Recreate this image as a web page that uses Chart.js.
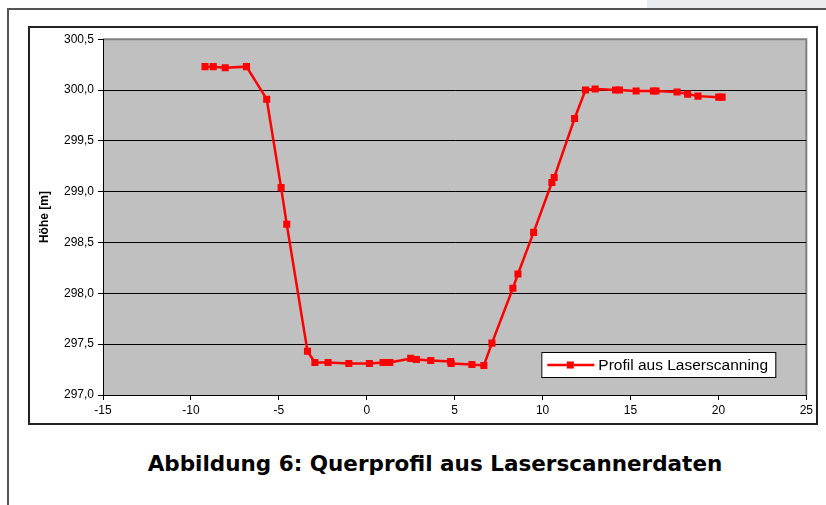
<!DOCTYPE html>
<html>
<head>
<meta charset="utf-8">
<script src="https://cdn.jsdelivr.net/npm/chart.js@4/dist/chart.umd.min.js"></script>
<style>
  body { margin: 0; background: #fff; width: 826px; height: 505px; position: relative; overflow: hidden; }
  #topbar { position: absolute; left: 647px; top: 0; width: 179px; height: 8px; background: #e9ebee; }
  #pageTop { position: absolute; left: 7px; top: 8px; width: 819px; height: 0; border-top: 2px solid #555; }
  #pageLeft { position: absolute; left: 7px; top: 8px; width: 0; height: 497px; border-left: 2px solid #555; }
  #box { position: absolute; left: 28px; top: 26px; width: 790px; height: 399px; box-sizing: border-box; border: 2px solid #222; background: #fff; }
  #myChart { position: absolute; left: 30px; top: 28px; }
  #caption { position: absolute; left: 0; width: 870px; top: 451px; text-align: center; font-family: 'DejaVu Sans', sans-serif; font-weight: bold; font-size: 21.5px; color: #000; }
</style>
</head>
<body>
<div id="topbar"></div>
<div id="pageTop"></div>
<div id="pageLeft"></div>
<div id="box"></div>
<canvas id="myChart" width="786" height="395"></canvas>
<div id="caption">Abbildung 6: Querprofil aus Laserscannerdaten</div>
<script>
const seriesLabel = 'Profil aus Laserscanning'
// Abstand [m]
const distances = [-9.2, -8.73, -8.05, -6.84, -5.69, -4.87, -4.55, -3.37, -2.95, -2.2,
	-1.02, 0.15, 0.93, 1.31, 2.5, 2.82, 3.64, 4.77, 4.8, 5.98,
	6.66, 7.12, 8.31, 8.6, 9.49, 10.53, 10.66, 11.82, 12.44, 12.99,
	14.15, 14.37, 15.32, 16.3, 16.45, 17.65, 18.25, 18.84, 20.02, 20.21]
// Höhe [m]
const heights = [300.23, 300.23, 300.22, 300.23, 299.91, 299.04, 298.68, 297.43, 297.32, 297.32,
	297.31, 297.31, 297.32, 297.32, 297.36, 297.35, 297.34, 297.33, 297.31, 297.30,
	297.29, 297.51, 298.05, 298.19, 298.6, 299.09, 299.14, 299.72, 300.0, 300.01,
	300.0, 300.0, 299.99, 299.99, 299.99, 299.98, 299.96, 299.94, 299.93, 299.93]
const xTicks = [-15, -10, -5, 0, 5, 10, 15, 20, 25]
const yTicks = [297.0, 297.5, 298.0, 298.5, 299.0, 299.5, 300.0, 300.5]

const FONT = '"Liberation Sans", Arial, sans-serif'
Chart.defaults.font.family = FONT

const ctx = document.getElementById('myChart');

const plotBg = {
	id: 'plotBg',
	beforeDraw(chart) {
		const a = chart.chartArea
		const c = chart.ctx
		c.save()
		c.fillStyle = '#c0c0c0'
		c.fillRect(a.left, a.top, a.right - a.left, a.bottom - a.top)
		c.strokeStyle = '#808080'
		c.lineWidth = 2
		c.beginPath()
		c.moveTo(a.left, a.top)
		c.lineTo(a.right, a.top)
		c.lineTo(a.right, a.bottom)
		c.stroke()
		c.restore()
	}
}

const boxLegend = {
	id: 'boxLegend',
	afterDatasetsDraw(chart) {
		const a = chart.chartArea
		const c = chart.ctx
		const ds = chart.data.datasets[0]
		const w = 234, h = 25
		const x = a.right - 31 - w, y = a.bottom - 18 - h
		c.save()
		c.fillStyle = '#fff'
		c.fillRect(x, y, w, h)
		c.strokeStyle = '#000'
		c.lineWidth = 1
		c.strokeRect(x + 0.5, y + 0.5, w, h)
		const my = y + h / 2 + 0.5
		c.strokeStyle = ds.borderColor
		c.lineWidth = ds.borderWidth
		c.beginPath()
		c.moveTo(x + 6, my)
		c.lineTo(x + 53, my)
		c.stroke()
		Chart.helpers.drawPoint(c, {pointStyle: 'rect', radius: ds.pointRadius, borderWidth: 0}, x + 29, my)
		c.fillStyle = ds.backgroundColor
		c.fill()
		c.fillStyle = '#000'
		c.font = '15.5px ' + FONT
		c.textBaseline = 'middle'
		c.fillText(ds.label, x + 57, my + 1)
		c.restore()
	}
}

const fmt = v => v.toFixed(1).replace('.', ',')

const myChart = new Chart(ctx, {
	type: 'scatter',
	data: {
		datasets: [{
			label: seriesLabel,
			data: distances.map((d, i) => ({x: d, y: heights[i]})),
			showLine: true,
			borderColor: '#ff0000',
			backgroundColor: '#ff0000',
			borderWidth: 2.5,
			pointStyle: 'rect',
			pointRadius: 5,
			pointBorderWidth: 0,
			pointHoverRadius: 5
		}]
	},
	options: {
		responsive: false,
		animation: false,
		devicePixelRatio: 1,
		layout: { padding: { top: 10, right: 9, bottom: 0, left: 0 } },
		plugins: {
			legend: { display: false },
			tooltip: { enabled: false }
		},
		scales: {
			x: {
				type: 'linear',
				min: -15,
				max: 25,
				afterBuildTicks(scale) { scale.ticks = xTicks.map(v => ({value: v})) },
				afterFit(scale) { scale.height = 28 },
				grid: { drawOnChartArea: false, tickLength: 5, tickColor: '#000', tickWidth: 1 },
				border: { color: '#000', width: 1 },
				ticks: { color: '#000', font: { family: FONT, size: 12 }, padding: 3, maxRotation: 0 }
			},
			y: {
				type: 'linear',
				min: 297,
				max: 300.5,
				afterBuildTicks(scale) { scale.ticks = yTicks.map(v => ({value: v})) },
				afterFit(scale) { scale.width = 73 },
				grid: {
					color: c => c.tick && c.tick.value === 300.5 ? 'rgba(0,0,0,0)' : '#000',
					lineWidth: 1,
					tickLength: 5,
					tickColor: '#000'
				},
				border: { color: '#000', width: 1 },
				ticks: { color: '#000', font: { family: FONT, size: 12 }, padding: 4, callback: v => fmt(v) },
				title: {
					display: true,
					text: 'Höhe [m]',
					color: '#000',
					font: { family: FONT, size: 12, weight: 'bold' },
					padding: { top: 7, bottom: 0 }
				}
			}
		}
	},
	plugins: [plotBg, boxLegend]
});
</script>
</body>
</html>
